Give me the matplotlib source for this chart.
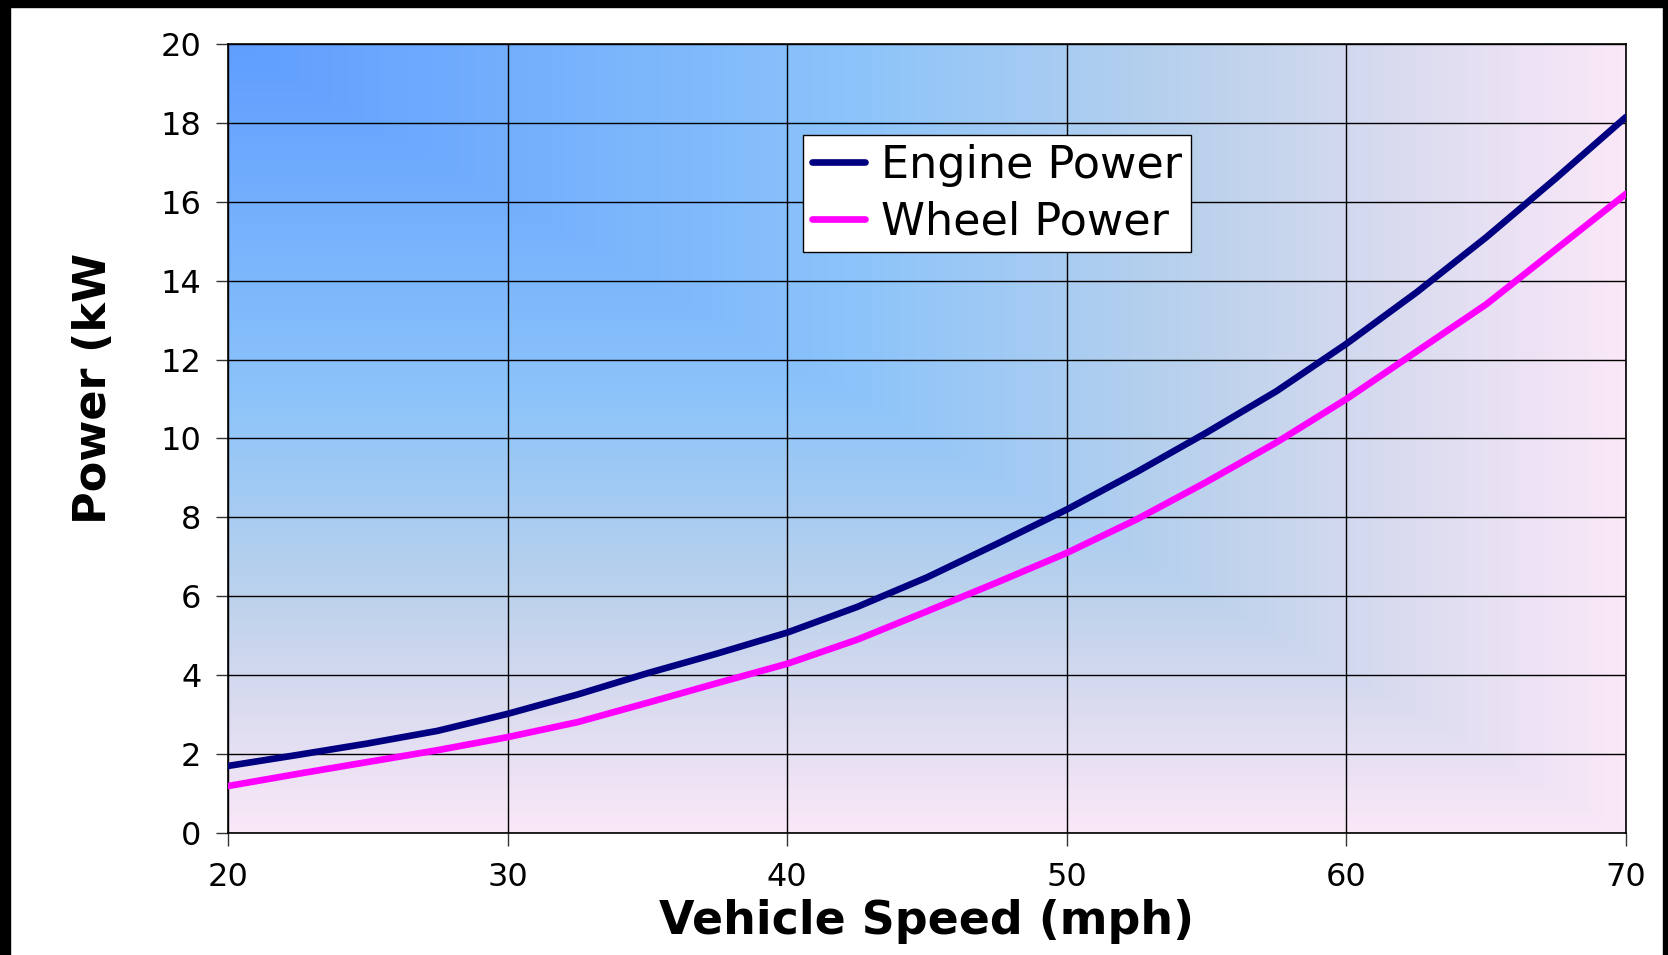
import numpy as np
import matplotlib
matplotlib.use("Agg")
import matplotlib.pyplot as plt
from matplotlib.colors import LinearSegmentedColormap
from matplotlib.patches import Rectangle

plt.rcParams['font.family'] = ['DejaVu Sans']

# data
speed_mph = [20, 22.5, 25, 27.5, 30, 32.5, 35, 37.5, 40, 42.5, 45,
             47.5, 50, 52.5, 55, 57.5, 60, 62.5, 65, 67.5, 70]
engine_kw = [1.70, 1.98, 2.27, 2.59, 3.02, 3.51, 4.05, 4.55, 5.08, 5.73, 6.48,
             7.33, 8.20, 9.15, 10.15, 11.2, 12.4, 13.7, 15.1, 16.6, 18.15]
wheel_kw = [1.19, 1.50, 1.80, 2.10, 2.43, 2.81, 3.30, 3.80, 4.29, 4.90, 5.62,
            6.35, 7.10, 7.95, 8.90, 9.90, 11.0, 12.2, 13.4, 14.8, 16.2]
x_ticks = [20, 30, 40, 50, 60, 70]
y_ticks = [0, 2, 4, 6, 8, 10, 12, 14, 16, 18, 20]

W, H = 1668, 955
fig = plt.figure(figsize=(W / 100, H / 100), dpi=100)
ax = fig.add_axes([228 / W, 1 - 833 / H, (1626 - 228) / W, (833 - 44) / H])

# "from corner" background gradient: blue top-left -> pink
grad = LinearSegmentedColormap.from_list("bg", [
    (0.0, (96 / 255, 158 / 255, 1.0)),
    (0.45, (140 / 255, 196 / 255, 250 / 255)),
    (0.7, (188 / 255, 210 / 255, 236 / 255)),
    (0.85, (220 / 255, 220 / 255, 240 / 255)),
    (1.0, (250 / 255, 232 / 255, 248 / 255)),
])
u = np.linspace(0, 1, 400)
v = np.linspace(0, 1, 300)
uu, vv = np.meshgrid(u, v)
t = np.maximum(uu, vv)   # row 0 = top of the plot
ax.imshow(t, cmap=grad, aspect='auto', extent=[20, 70, 0, 20], origin='upper',
          zorder=0, interpolation='bilinear')

ax.plot(speed_mph, engine_kw, color='#000080', lw=4.8, label='Engine Power',
        zorder=3, solid_capstyle='round')
ax.plot(speed_mph, wheel_kw, color='#ff00ff', lw=4.8, label='Wheel Power',
        zorder=3, solid_capstyle='round')

ax.set_xlim(20, 70)
ax.set_ylim(0, 20)
ax.set_xticks(x_ticks)
ax.set_yticks(y_ticks)
ax.grid(True, color='black', lw=1.0, zorder=1)
ax.set_axisbelow(True)
ax.tick_params(axis='both', labelsize=23, length=9, width=1.0, color='#333333')
ax.tick_params(axis='x', pad=12)
ax.tick_params(axis='y', pad=10)
for s in ax.spines.values():
    s.set_linewidth(1.2)
    s.set_color('black')

ax.set_xlabel('Vehicle Speed (mph)', fontsize=33, fontweight='bold', labelpad=4)
fig.text(93 / W, 1 - 388 / H, 'Power (kW', rotation=90, fontsize=32,
         fontweight='bold', ha='center', va='center')

leg = ax.legend(loc='upper left', bbox_to_anchor=((803 - 228) / 1398, 1 - (135 - 44) / 789),
                fontsize=32, frameon=True, fancybox=False, handlelength=1.2,
                handletextpad=0.35, borderpad=0.2, labelspacing=0.3, borderaxespad=0)
leg.get_frame().set_edgecolor('black')
leg.get_frame().set_linewidth(1.0)
leg.get_frame().set_alpha(1)

# black frame around the picture (left, top, right)
fig.patches.append(Rectangle((0, 0), 10 / W, 1, transform=fig.transFigure,
                             color='black', zorder=10))
fig.patches.append(Rectangle((0, 1 - 7 / H), 1, 7 / H, transform=fig.transFigure,
                             color='black', zorder=10))
fig.patches.append(Rectangle((1 - 5 / W, 0), 5 / W, 1, transform=fig.transFigure,
                             color='black', zorder=10))

fig.savefig('out.png', dpi=100)
